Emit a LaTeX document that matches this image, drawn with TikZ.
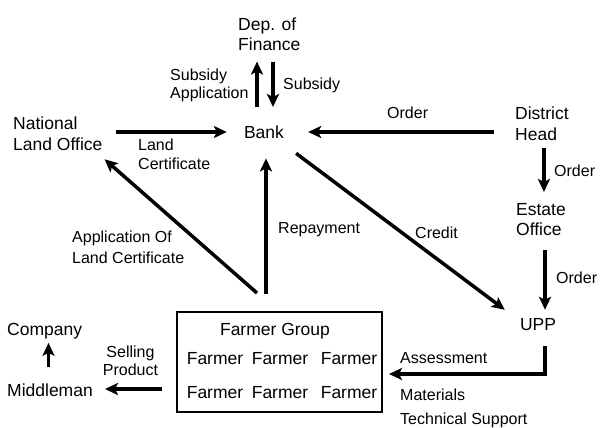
\documentclass[tikz,border=0pt]{standalone}
\usepackage{fontspec}
\setmainfont{Liberation Sans}
\usetikzlibrary{arrows.meta,calc}
\begin{document}
\begin{tikzpicture}[x=1pt,y=-1pt,
  mainf/.style={font=\fontsize{17.5}{21.5}\selectfont, inner sep=0pt},
  lab/.style={font=\fontsize{16}{18.5}\selectfont, inner sep=0pt},
  arr/.style={line width=3.5pt, -{Stealth[length=13pt,width=12pt,inset=3pt]}},
]
\useasboundingbox (0,0) rectangle (605,428);

% main nodes
\node[mainf, align=left, anchor=north west, font=\fontsize{17.5}{19.3}\selectfont] (dep) at (238,18) {Dep. of\\Finance};
\node[mainf, anchor=base] (bank) at (264,138) {Bank};
\node[mainf, align=left, anchor=north west] (nlo) at (13,116.5) {National\\Land Office};
\node[mainf, align=left, anchor=north west] (dh) at (515,106.5) {District\\Head};
\node[mainf, align=left, anchor=north west, font=\fontsize{17.5}{20}\selectfont] (eo) at (516,203) {Estate\\Office};
\node[mainf, anchor=base] (upp) at (538,330) {UPP};
\node[draw, line width=2pt, minimum width=205pt, minimum height=100pt, inner sep=0pt] (fg) at (279.5,362) {};
\node[mainf, anchor=base] (fgt) at (275,335) {Farmer Group};
\node[mainf, anchor=base] (f1) at (215,364) {Farmer};
\node[mainf, anchor=base] (f2) at (280,364) {Farmer};
\node[mainf, anchor=base] (f3) at (349,364) {Farmer};
\node[mainf, anchor=base] (f4) at (215,398) {Farmer};
\node[mainf, anchor=base] (f5) at (280,398) {Farmer};
\node[mainf, anchor=base] (f6) at (349,398) {Farmer};
\node[mainf, anchor=base west] (mid) at (7,396) {Middleman};
\node[mainf, anchor=base west] (comp) at (7,335) {Company};

% labels
\node[lab, align=left, anchor=north west, font=\fontsize{16}{18}\selectfont] (lsa) at (170,69) {Subsidy\\Application};
\node[lab, anchor=base west] (ls) at (283,89) {Subsidy};
\node[lab, align=left, anchor=north west, font=\fontsize{16}{19}\selectfont] (llc) at (138,139) {Land\\Certificate};
\node[lab, anchor=base west] (lo1) at (387,118) {Order};
\node[lab, anchor=base west] (lo2) at (554,176.5) {Order};
\node[lab, anchor=base west] (lo3) at (556,283) {Order};
\node[lab, anchor=base west] (lcr) at (415,238) {Credit};
\node[lab, anchor=base west] (lrp) at (278,233.5) {Repayment};
\node[lab, align=left, anchor=north west, font=\fontsize{16}{21}\selectfont] (lalc) at (72,230.5) {Application Of\\Land Certificate};
\node[lab, align=center, anchor=north, font=\fontsize{16}{18.7}\selectfont] (lsp) at (130.5,345.5) {Selling\\Product};
\node[lab, anchor=base west] (las) at (400,363) {Assessment};
\node[lab, anchor=base west] (lma) at (400,400) {Materials};
\node[lab, anchor=base west] (lts) at (400,424) {Technical Support};

% helper coordinates
\coordinate (bu) at ($(bank.base)+(-7,-31)$);
\coordinate (bd) at ($(bank.base)+(9,-31)$);
\coordinate (nb) at ($(bank.base)+(0,-6)$);
\coordinate (de) at ($(dh.south)+(2,0)$);
\coordinate (eu) at ($(eo.south)+(4,0)$);
\coordinate (us) at ($(upp.south)+(7,16)$);
\coordinate (fe) at ($(fg.east)+(0,12)$);
\coordinate (fr) at ($(fg.north)+(-13.5,0)$);
\coordinate (fm) at ($(fg.west)+(0,27)$);
\coordinate (mc) at ($(mid.north)+(-1.5,0)$);

% connectors
\draw[arr, shorten >=11pt] (bu) -- (bu |- dep.south);
\draw[arr, shorten <=11pt] (bd |- dep.south) -- (bd);
\draw[arr, shorten <=13pt, shorten >=17pt] (nlo.east |- nb) -- (bank.west |- nb);
\draw[arr, shorten <=21pt, shorten >=24pt] (dh.west |- nb) -- (bank.east |- nb);
\draw[arr, shorten <=7pt, shorten >=11pt] (de) -- (de |- eo.north);
\draw[arr, shorten <=14pt, shorten >=8pt] (eu) -- (eu |- upp.north);
\draw[arr, shorten >=6pt] (us) |- (fe);
\draw[arr] ($(bank.south east)+(12,15)$) -- ($(upp.north west)+(-15,-8)$);
\draw[arr, shorten <=17pt, shorten >=20pt] (fr) -- (fr |- bank.south);
\draw[arr] ($(fg.north)+(-22.5,-18)$) -- ($(nlo.south east)+(2,8)$);
\draw[arr, shorten <=14pt, shorten >=12pt] (fm) -- (fm -| mid.east);
\draw[arr, shorten <=16pt, shorten >=4pt] (mc) -- (mc |- comp.south);
\end{tikzpicture}
\end{document}
